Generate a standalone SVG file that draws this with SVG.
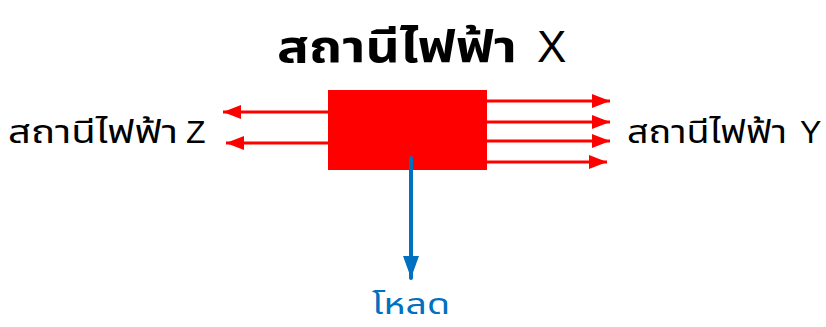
<svg xmlns="http://www.w3.org/2000/svg" width="826" height="327" viewBox="0 0 826 327">
<style>
.th{font-family:"Noto Sans Thai","Noto Sans","DejaVu Sans",sans-serif;}
.la{font-family:"Liberation Sans",Arial,sans-serif;}
.red{stroke:#FF0000;stroke-width:3;fill:none;}
.blue{stroke:#0070C0;stroke-width:4;fill:none;}
</style>
<defs>
<marker id="ar" markerUnits="userSpaceOnUse" markerWidth="18" markerHeight="14" refX="18" refY="7" orient="auto"><path d="M0,0 L18,7 L0,14 Z" fill="#FF0000"/></marker>
<marker id="ab" markerUnits="userSpaceOnUse" markerWidth="22" markerHeight="16" refX="22" refY="8" orient="auto"><path d="M0,0 L22,8 L0,16 Z" fill="#0070C0"/></marker>
</defs>
<rect width="826" height="327" fill="#fff"/>
<g id="title">
<text class="th" x="277" y="62" font-size="44" font-weight="bold" textLength="240" lengthAdjust="spacingAndGlyphs">สถานีไฟฟ้า</text>
<text class="la" x="537" y="62" font-size="44">X</text>
</g>
<g id="stationX"><rect x="328" y="90" width="159" height="80" fill="#FF0000"/></g>
<g id="stationZ">
<text class="th" x="8" y="143" font-size="32" textLength="170" lengthAdjust="spacingAndGlyphs">สถานีไฟฟ้า</text>
<text class="la" x="186" y="143" font-size="32">Z</text>
</g>
<g id="stationY">
<text class="th" x="627" y="143" font-size="32" textLength="160" lengthAdjust="spacingAndGlyphs">สถานีไฟฟ้า</text>
<text class="la" x="800" y="143" font-size="32">Y</text>
</g>
<g id="load"><text class="th" x="372" y="314" font-size="29" fill="#0070C0" textLength="78" lengthAdjust="spacingAndGlyphs">โหลด</text></g>
<g id="connectors">
<line class="red" x1="328" y1="112" x2="223" y2="112" marker-end="url(#ar)"/>
<line class="red" x1="328" y1="143" x2="226" y2="143" marker-end="url(#ar)"/>
<line class="red" x1="487" y1="101" x2="610" y2="101" marker-end="url(#ar)"/>
<line class="red" x1="487" y1="122" x2="610" y2="122" marker-end="url(#ar)"/>
<line class="red" x1="487" y1="141" x2="610" y2="141" marker-end="url(#ar)"/>
<line class="red" x1="487" y1="162" x2="607" y2="162" marker-end="url(#ar)"/>
<line class="blue" x1="411" y1="158" x2="411" y2="278" stroke-linecap="round" marker-end="url(#ab)"/>
</g>
</svg>
